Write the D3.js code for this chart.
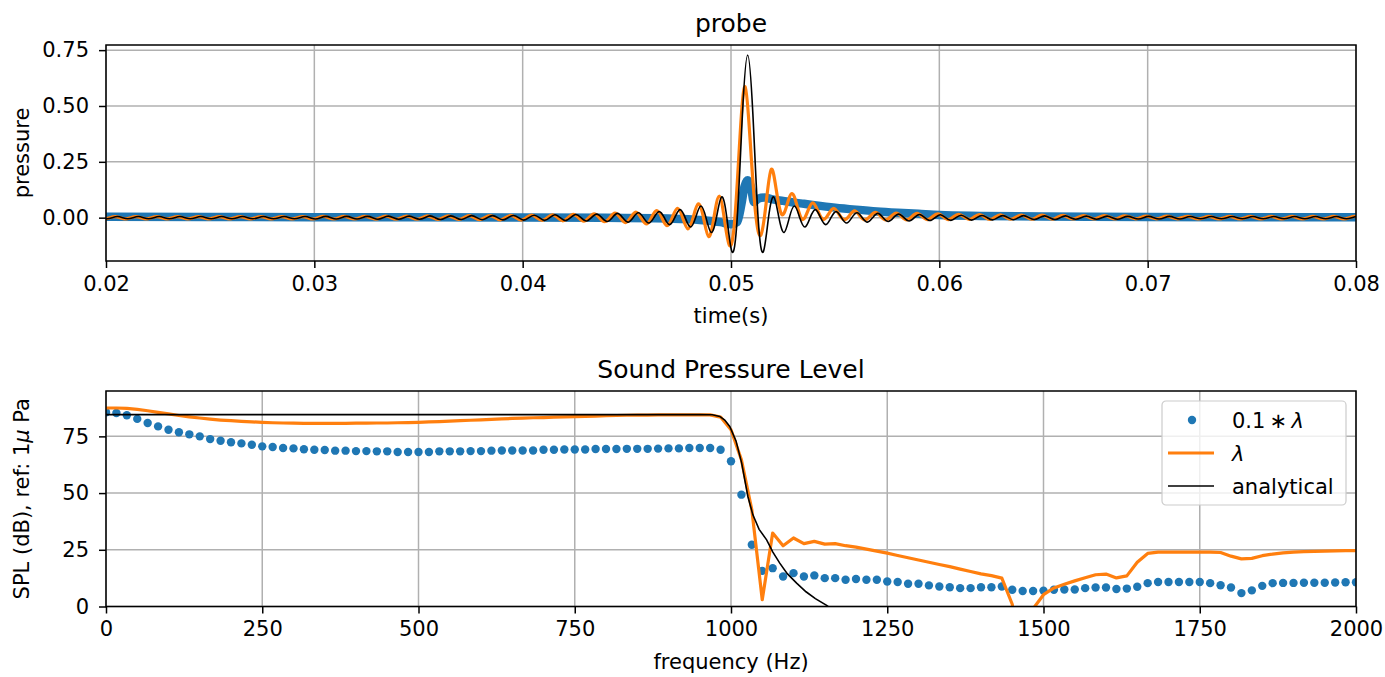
<!DOCTYPE html>
<html>
<head>
<meta charset="utf-8">
<script src="https://cdn.jsdelivr.net/npm/d3@7"></script>
<style>
  body { margin: 0; background: #fff; }
  svg text { font-family: "DejaVu Sans", sans-serif; fill: #000; }
</style>
</head>
<body>
<svg id="chart" width="1385" height="677"></svg>
<script>
// probe signals are sampled every quarter period of the 1 kHz ringing
const probeStep = 0.00025;
const analyticalStart = 0.0198;
const analyticalProbe = [
  0,-.005,0,.005,0,-.005,0,.005,0,-.005,0,.005,0,-.005,0,.005,0,-.005,0,.005,
  0,-.005,0,.005,0,-.005,0,.005,0,-.005,0,.005,0,-.005,0,.005,0,-.005,0,.005,
  0,-.006,0,.006,0,-.006,0,.006,0,-.006,0,.006,0,-.007,0,.007,0,-.007,0,.007,
  0,-.007,0,.008,0,-.008,0,.008,0,-.008,0,.009,0,-.009,0,.009,0,-.010,0,.010,0,-.011,0,.011,
  0,-.012,0,.013,0,-.013,0,.014,0,-.015,0,.016,0,-.017,0,.019,0,-.020,0,.022,
  0,-.024,0,.027,0,-.031,0,.036,0,-.042,0,.052,0,-.066,0,.093,0,-.153,0,.464,
  .728,
  .464,0,-.153,0,.093,0,-.066,0,.052,0,-.042,0,.036,0,-.031,0,.027,0,-.024,0,
  .022,0,-.020,0,.019,0,-.017,0,.016,0,-.015,0,.014,0,-.013,0,.013,0,-.012,0,
  .011,0,-.011,0,.010,0,-.010,0,.009,0,-.009,0,.009,0,-.008,0,.008,0,-.008,0,.008,0,-.007,0,
  .007,0,-.007,0,.007,0,-.007,0,.006,0,-.006,0,.006,0,-.006,0,.006,0,-.006,0,
  .005,0,-.005,0,.005,0,-.005,0,.005,0,-.005,0,.005,0,-.005,0,.005,0,-.005,0,
  .005,0,-.005,0,.005,0,-.005,0,.005,0,-.005,0,.005,0,-.005,0,.005
];
const lambdaStart = 0.01968;
const lambdaProbe = [
  0,-.005,0,.005,0,-.005,0,.005,0,-.005,0,.005,0,-.005,0,.005,0,-.005,0,.005,
  0,-.005,0,.005,0,-.005,0,.005,0,-.005,0,.005,0,-.005,0,.005,0,-.005,0,.005,
  0,-.006,0,.006,0,-.006,0,.006,0,-.006,0,.006,0,-.007,0,.007,0,-.007,0,.007,
  0,-.007,0,.008,0,-.008,0,.008,0,-.008,0,.009,0,-.009,0,.009,0,-.010,0,.010,0,-.011,0,.011,
  0,-.012,0,.013,0,-.014,0,.015,0,-.016,0,
  .017,0,-.018,0,.020,0,-.022,0,.025,0,-.028,0,.032,0,-.036,0,.042,0,-.050,0,
  .062,0,-.085,0,.096,-.005,-.125,-.01,.36,
  .586,
  .33,.02,-.078,.06,.216,.12,.015,.055,.108,.05,-.008,.028,.066,.028,-.008,.016,
  .042,.016,-.009,.009,.030,.009,-.010,.007,.024,.007,-.010,
  .006,.021,.006,-.010,.005,.019,.005,-.009,.005,.017,.004,-.009,.004,.015,.004,-.008,
  .004,.014,.003,-.008,.003,.013,.003,-.007,.003,.012,.003,-.007,.002,.011,.002,-.007,
  .002,.010,.002,-.006,.002,.009,.002,-.006,.002,.009,.002,-.006,.002,.008,.002,-.005,
  .001,.007,.001,-.005,.001,.007,
  .001,-.005,.001,.006,
  0,-.005,0,.006,0,-.005,0,.006,0,-.005,0,.006,0,-.005,0,.006,
  0,-.005,0,.006,0,-.005,0,.006,0,-.005,0,.006,0,-.005,0,.006,0
];
const lambda01Time = [
  0.020, 0.025, 0.030, 0.035, 0.040, 0.044, 0.047, 0.0485, 0.0495, 0.0500,
  0.0503, 0.0505, 0.05065, 0.0508, 0.05095, 0.0511, 0.0513, 0.0516, 0.0520, 0.0525,
  0.0530, 0.0535, 0.0540, 0.0550, 0.0560, 0.0570, 0.0580, 0.0590, 0.0600, 0.0620,
  0.0650, 0.0700, 0.0750, 0.0800
];
const lambda01Probe = [
  0.004, 0.003, 0.002, 0.002, 0.001, 0.0, -0.004, -0.01, -0.02, -0.03,
  -0.02, 0.06, 0.14, 0.168, 0.14, 0.07, 0.085, 0.09, 0.082, 0.075,
  0.068, 0.062, 0.056, 0.045, 0.036, 0.028, 0.022, 0.017, 0.012, 0.008,
  0.005, 0.003, 0.002, 0.002
];

// spectra, one bin every 1/0.06 s = 16.67 Hz
const freqStep = 1000 / 60;
const lambda01Spl = [
  85.6, 85.3, 84.3, 82.7, 80.9, 79.4, 77.9, 76.8, 75.9, 75.0,
  73.8, 73.1, 72.4, 71.9, 71.3, 70.6, 70.3, 69.9, 69.7, 69.3,
  69.1, 69.0, 68.7, 68.7, 68.5, 68.5, 68.4, 68.4, 68.1, 68.1,
  68.1, 68.1, 68.4, 68.4, 68.4, 68.5, 68.5, 68.7, 68.8, 68.8,
  68.8, 68.8, 69.1, 69.1, 69.2, 69.2, 69.2, 69.4, 69.4, 69.4,
  69.5, 69.5, 69.5, 69.6, 69.7, 69.7, 69.9, 69.9, 69.9, 69.1,
  64.0, 49.3, 27.2, 15.7, 16.9, 13.2, 14.7, 13.2, 13.7, 12.5,
  12.5, 11.8, 12.1, 11.8, 11.8, 11.0, 10.8, 10.0, 10.0, 9.3,
  8.8, 8.5, 8.1, 8.1, 8.5, 8.5, 8.8, 7.4, 6.8, 6.8,
  7.0, 7.4, 7.5, 7.5, 8.1, 8.4, 8.4, 7.7, 7.9, 8.7,
  10.3, 10.8, 10.8, 10.8, 10.8, 10.8, 10.3, 9.4, 8.4, 5.9,
  7.1, 9.1, 10.3, 10.4, 10.4, 10.5, 10.5, 10.5, 10.6, 10.7,
  10.7
];
const lambdaSpl = [
  87.5, 87.5, 87.3, 86.9, 86.3, 85.6, 84.9, 84.2, 83.6, 83.1,
  82.6, 82.2, 81.9, 81.6, 81.4, 81.2, 81.0, 80.9, 80.8, 80.7,
  80.7, 80.7, 80.7, 80.7, 80.8, 80.8, 80.9, 80.9, 81.0, 81.1,
  81.2, 81.4, 81.5, 81.7, 81.9, 82.1, 82.3, 82.5, 82.7, 82.9,
  83.0, 83.2, 83.3, 83.5, 83.6, 83.7, 83.8, 83.9, 84.1, 84.2,
  84.3, 84.4, 84.4, 84.5, 84.5, 84.5, 84.5, 84.5, 84.5, 83.5,
  77.9, 64.7, 42.6, 3.0, 32.4, 26.8, 30.2, 27.7, 28.7, 27.5,
  27.7, 26.8, 26.2, 25.3, 24.4, 23.5, 22.5, 21.5, 20.5, 19.5,
  18.5, 17.6, 16.5, 15.4, 14.4, 13.6, 12.5, 1.0, -30.0, -1.0,
  5.2, 8.2, 9.8, 11.3, 12.7, 14.0, 14.3, 12.6, 13.5, 19.5,
  23.4, 24.0, 24.0, 24.0, 24.0, 24.0, 24.0, 23.8, 22.2, 21.0,
  21.2, 22.4, 23.1, 23.6, 24.0, 24.2, 24.3, 24.4, 24.5, 24.6,
  24.6
];
const analyticalFreq = [0, 950, 970, 982, 990, 998, 1008, 1017, 1027, 1035, 1045, 1057, 1067, 1078, 1090, 1105, 1120, 1135, 1153, 1170];
const analyticalSpl = [84.6, 84.6, 84.5, 83.8, 82.2, 79.4, 73.0, 63.3, 48.5, 40.4, 34.0, 29.4, 24.0, 19.1, 14.5, 10.3, 6.5, 3.5, 0.5, -3.0];

const timeTicks = [0.02, 0.03, 0.04, 0.05, 0.06, 0.07, 0.08];
const pressureTicks = [0, 0.25, 0.5, 0.75];
const freqTicks = [0, 250, 500, 750, 1000, 1250, 1500, 1750, 2000];
const splTicks = [0, 25, 50, 75];

const blue = '#1f77b4', orange = '#ff7f0e';
const svg = d3.select('#chart');
const plotLeft = 106, plotRight = 1356;
const fontSize = 21;

function addPanel(cfg) {
  const x = d3.scaleLinear().domain(cfg.xDomain).range([plotLeft, plotRight]);
  const y = d3.scaleLinear().domain(cfg.yDomain).range([cfg.bottom, cfg.top]);
  const g = svg.append('g');
  const grid = g.append('g').attr('stroke', '#b0b0b0').attr('stroke-width', 1.5);
  grid.selectAll('line.gx').data(cfg.xTicks).join('line').attr('class', 'gx')
    .attr('x1', d => x(d)).attr('x2', d => x(d))
    .attr('y1', cfg.top).attr('y2', cfg.bottom);
  grid.selectAll('line.gy').data(cfg.yTicks).join('line').attr('class', 'gy')
    .attr('x1', plotLeft).attr('x2', plotRight)
    .attr('y1', d => y(d)).attr('y2', d => y(d));
  g.append('clipPath').attr('id', cfg.id).append('rect')
    .attr('x', plotLeft).attr('y', cfg.top)
    .attr('width', plotRight - plotLeft).attr('height', cfg.bottom - cfg.top);
  const plot = g.append('g').attr('clip-path', `url(#${cfg.id})`);
  return Object.assign({ x, y, g, plot }, cfg);
}

function styleAxis(sel) {
  sel.attr('font-size', fontSize).attr('font-family', '"DejaVu Sans", sans-serif');
  sel.select('.domain').remove();
  sel.selectAll('.tick line').attr('stroke', '#000').attr('stroke-width', 1.5);
  sel.selectAll('.tick text').attr('fill', '#000');
}

function finishPanel(p) {
  p.g.append('g')
    .attr('transform', `translate(0,${p.bottom})`)
    .call(d3.axisBottom(p.x).tickValues(p.xTicks).tickFormat(p.xFormat).tickSize(7).tickPadding(8))
    .call(styleAxis);
  p.g.append('g')
    .attr('transform', `translate(${plotLeft},0)`)
    .call(d3.axisLeft(p.y).tickValues(p.yTicks).tickFormat(p.yFormat).tickSize(7).tickPadding(10))
    .call(styleAxis);
  p.g.append('rect')
    .attr('x', plotLeft).attr('y', p.top)
    .attr('width', plotRight - plotLeft).attr('height', p.bottom - p.top)
    .attr('fill', 'none').attr('stroke', '#000').attr('stroke-width', 1.5);
  p.g.append('text')
    .attr('x', (plotLeft + plotRight) / 2).attr('y', p.top - 13)
    .attr('text-anchor', 'middle').attr('font-size', 25)
    .text(p.title);
  p.g.append('text')
    .attr('x', (plotLeft + plotRight) / 2).attr('y', p.bottom + 62)
    .attr('text-anchor', 'middle').attr('font-size', fontSize)
    .text(p.xLabel);
  const yl = p.g.append('text')
    .attr('transform', `translate(29,${(p.top + p.bottom) / 2}) rotate(-90)`)
    .attr('text-anchor', 'middle').attr('font-size', fontSize);
  p.yLabel.forEach(part => {
    yl.append('tspan').attr('font-style', part.italic ? 'italic' : null).text(part.text);
  });
}

// ---- top panel: probe ----
const probe = addPanel({
  id: 'clip-probe', top: 45, bottom: 261,
  xDomain: [0.02, 0.08], yDomain: [-0.194, 0.773],
  xTicks: timeTicks, yTicks: pressureTicks,
  xFormat: d3.format('.2f'), yFormat: d3.format('.2f'),
  title: 'probe', xLabel: 'time(s)', yLabel: [{ text: 'pressure' }]
});

const blueLine = d3.line()
  .x((d, i) => probe.x(lambda01Time[i]))
  .y(d => probe.y(d))
  .curve(d3.curveMonotoneX);
probe.plot.append('path')
  .datum(lambda01Probe)
  .attr('fill', 'none').attr('stroke', blue)
  .attr('stroke-width', 8.5).attr('stroke-linejoin', 'round').attr('stroke-linecap', 'round')
  .attr('d', blueLine);

function gridLine(start) {
  return d3.line()
    .x((d, i) => probe.x(start + i * probeStep))
    .y(d => probe.y(d))
    .curve(d3.curveNatural);
}
probe.plot.append('path')
  .datum(lambdaProbe)
  .attr('fill', 'none').attr('stroke', orange).attr('stroke-width', 3.2)
  .attr('stroke-linejoin', 'round')
  .attr('d', gridLine(lambdaStart));
probe.plot.append('path')
  .datum(analyticalProbe)
  .attr('fill', 'none').attr('stroke', '#000').attr('stroke-width', 1.6)
  .attr('d', gridLine(analyticalStart));

finishPanel(probe);

// ---- bottom panel: SPL ----
const spl = addPanel({
  id: 'clip-spl', top: 391, bottom: 606.5,
  xDomain: [0, 2000], yDomain: [0, 95],
  xTicks: freqTicks, yTicks: splTicks,
  xFormat: d3.format('d'), yFormat: d3.format('d'),
  title: 'Sound Pressure Level', xLabel: 'frequency (Hz)',
  yLabel: [{ text: 'SPL (dB), ref: 1' }, { text: 'μ', italic: true }, { text: ' Pa' }]
});

spl.plot.append('g')
  .selectAll('circle')
  .data(lambda01Spl)
  .join('circle')
  .attr('cx', (d, i) => spl.x(i * freqStep))
  .attr('cy', d => spl.y(d))
  .attr('r', 4.2)
  .attr('fill', blue);

spl.plot.append('path')
  .datum(lambdaSpl)
  .attr('fill', 'none').attr('stroke', orange).attr('stroke-width', 3.2)
  .attr('stroke-linejoin', 'round')
  .attr('d', d3.line().x((d, i) => spl.x(i * freqStep)).y(d => spl.y(d)));

spl.plot.append('path')
  .datum(analyticalSpl)
  .attr('fill', 'none').attr('stroke', '#000').attr('stroke-width', 1.6)
  .attr('d', d3.line().x((d, i) => spl.x(analyticalFreq[i])).y(d => spl.y(d)));

finishPanel(spl);

// legend
const legend = svg.append('g').attr('transform', 'translate(1162,401)');
legend.append('rect')
  .attr('width', 184).attr('height', 104).attr('rx', 4)
  .attr('fill', '#fff').attr('fill-opacity', 0.8)
  .attr('stroke', '#cccccc').attr('stroke-width', 1.2);
legend.append('circle').attr('cx', 30).attr('cy', 19).attr('r', 4.2).attr('fill', blue);
legend.append('line').attr('x1', 6).attr('x2', 52).attr('y1', 52).attr('y2', 52)
  .attr('stroke', orange).attr('stroke-width', 3.2);
legend.append('line').attr('x1', 6).attr('x2', 52).attr('y1', 85).attr('y2', 85)
  .attr('stroke', '#000').attr('stroke-width', 1.6);
const entries = [
  [{ text: '0.1' }, { text: '\u2009\u2217\u2009' }, { text: 'λ', italic: true }],
  [{ text: 'λ', italic: true }],
  [{ text: 'analytical' }]
];
entries.forEach((parts, i) => {
  const t = legend.append('text')
    .attr('x', 70).attr('y', 19 + i * 33).attr('dy', '0.36em')
    .attr('font-size', fontSize);
  parts.forEach(part => {
    t.append('tspan').attr('font-style', part.italic ? 'italic' : null).text(part.text);
  });
});
</script>
</body>
</html>
